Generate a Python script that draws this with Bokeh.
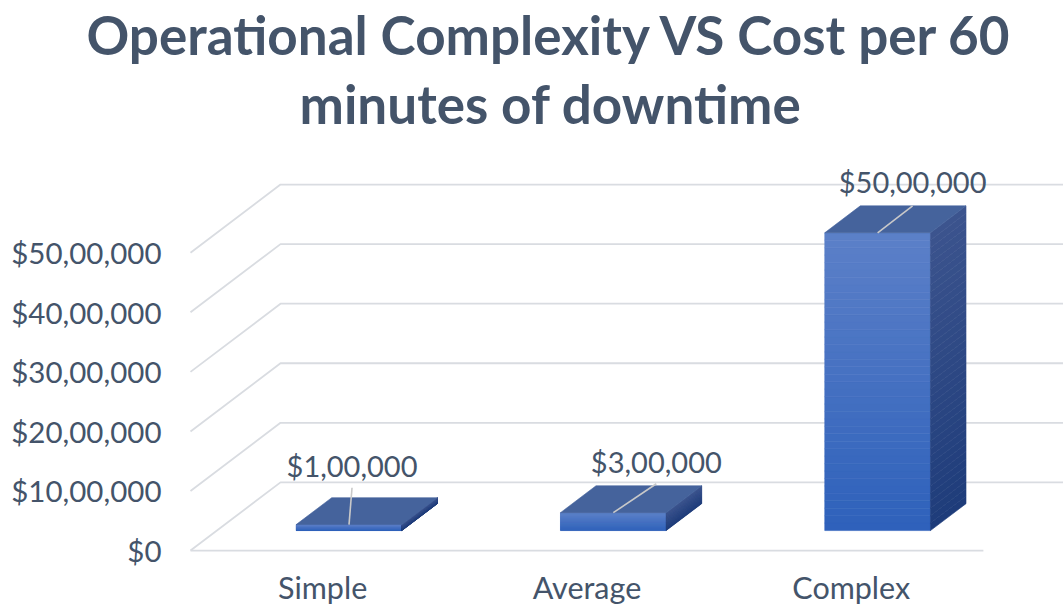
from bokeh.plotting import figure
from bokeh.models import Range1d, FixedTicker, Title
from bokeh.embed import file_html
from bokeh.resources import INLINE
from bokeh.core.properties import value

# ---------------- data ----------------
categories = ["Simple", "Average", "Complex"]
costs = [100000, 300000, 5000000]
y_ticks = [0, 1000000, 2000000, 3000000, 4000000, 5000000]
title_lines = ["Operational Complexity VS Cost per 60", "minutes of downtime"]


def inr(v):
    """Indian digit grouping with a dollar sign."""
    s = str(int(v))
    if len(s) > 3:
        head, tail = s[:-3], s[-3:]
        groups = []
        while len(head) > 2:
            groups.insert(0, head[-2:])
            head = head[:-2]
        if head:
            groups.insert(0, head)
        s = ",".join(groups + [tail])
    return "$" + s


# ---------------- layout / style ----------------
W, H = 1063, 608
LEFT_PANEL = 172
BOTTOM_PANEL = 46
TOP_PANEL = 137
PX_PER_SLOT = 264.3          # px per category slot (front plane)
PX_PER_DOLLAR = 59.7e-6      # px per dollar (front plane)
ORIGIN_PX = (18, 12)         # front-floor origin from frame left / bottom
DEPTH_PX = (90.0, 68.3)      # full floor depth offset in px
BAR_DEPTH = (0.293, 0.688)   # bar front/back as fraction of floor depth
BAR_WIDTH = 0.40
TEXT = "#44546A"
GRID = "#D9DCE1"
LEADER = "#C9C9C9"
FONT = "Lato"
FRONT_TOP, FRONT_BOT = (92, 128, 200), (46, 97, 187)
SIDE_TOP, SIDE_BOT = (60, 84, 142), (30, 60, 122)
TOP_FACE = "#45639C"
N_STRIPS = 40
LABEL_SHIFT_PX = [(3, 37), (43, 29), (35, 27)]
LABEL_GAP_PX = [22, 22, 24]
TITLE_OFFSETS = [-86, 127]
TITLE_STANDOFFS = [0, 8]

DX = DEPTH_PX[0] / PX_PER_SLOT
DY = DEPTH_PX[1] / PX_PER_DOLLAR

x0 = -ORIGIN_PX[0] / PX_PER_SLOT
x1 = x0 + (W - LEFT_PANEL) / PX_PER_SLOT
y0 = -ORIGIN_PX[1] / PX_PER_DOLLAR
y1 = y0 + (H - BOTTOM_PANEL - TOP_PANEL) / PX_PER_DOLLAR


def lerp(c1, c2, t):
    return "#%02x%02x%02x" % tuple(int(round(a + (b - a) * t)) for a, b in zip(c1, c2))


p = figure(width=W, height=H, x_range=Range1d(x0, x1), y_range=Range1d(y0, y1),
           output_backend="svg", toolbar_location=None,
           min_border_left=LEFT_PANEL, min_border_right=0, min_border_top=TOP_PANEL,
           min_border_bottom=BOTTOM_PANEL, outline_line_color=None,
           background_fill_color="white", border_fill_color="white")
p.xgrid.visible = False
p.ygrid.visible = False

# ---- title (two centred lines) ----
p.title.text = title_lines[0]
p.add_layout(Title(text=title_lines[1]), "above")
for t, off, so in zip([p.title, p.above[-1]], TITLE_OFFSETS, TITLE_STANDOFFS):
    t.align = "left"
    t.offset = off
    t.standoff = so
    t.text_font = FONT
    t.text_font_size = "53px"
    t.text_font_style = "bold"
    t.text_color = TEXT

# ---- 3D gridlines: left wall diagonal + back wall horizontal ----
gx, gy = [], []
for t in y_ticks:
    gx.append([0, DX, x1 + 1])
    gy.append([t, t + DY, t + DY])
gx.append([0, len(categories)])
gy.append([0, 0])
p.multi_line(gx, gy, line_color=GRID, line_width=1.8)

# ---- 3D bars ----
fl, fr, fb, ft, fc = [], [], [], [], []
sxs, sys_, scs = [], [], []
txs, tys = [], []
lead_x, lead_y, lab_x, lab_y, lab_t, lab_off = [], [], [], [], [], []
bdx = (BAR_DEPTH[1] - BAR_DEPTH[0]) * DX
bdy = (BAR_DEPTH[1] - BAR_DEPTH[0]) * DY
for i, v in enumerate(costs):
    c = i + 0.5 + BAR_DEPTH[0] * DX
    xl, xr = c - BAR_WIDTH / 2, c + BAR_WIDTH / 2
    b0 = BAR_DEPTH[0] * DY
    for k in range(N_STRIPS):
        f0, f1 = k / N_STRIPS, (k + 1) / N_STRIPS
        tm = 1 - (f0 + f1) / 2
        fl.append(xl); fr.append(xr)
        fb.append(b0 + v * f0); ft.append(b0 + v * f1)
        fc.append(lerp(FRONT_TOP, FRONT_BOT, tm))
        sxs.append([xr, xr, xr + bdx, xr + bdx])
        sys_.append([b0 + v * f0, b0 + v * f1, b0 + v * f1 + bdy, b0 + v * f0 + bdy])
        scs.append(lerp(SIDE_TOP, SIDE_BOT, tm))
    txs.append([xl, xr, xr + bdx, xl + bdx])
    tys.append([b0 + v, b0 + v, b0 + v + bdy, b0 + v + bdy])
    sx, sy = LABEL_SHIFT_PX[i]
    ex = c + sx / PX_PER_SLOT
    ey = b0 + v + sy / PX_PER_DOLLAR
    lead_x.append([c, ex]); lead_y.append([b0 + v, ey])
    lab_x.append(ex); lab_y.append(ey); lab_t.append(inr(v)); lab_off.append(-LABEL_GAP_PX[i])

p.quad(left=fl, right=fr, bottom=fb, top=ft, fill_color=fc, line_color=fc, line_width=0.6)
p.patches(sxs, sys_, fill_color=scs, line_color=scs, line_width=0.6)
p.patches(txs, tys, fill_color=TOP_FACE, line_color=TOP_FACE, line_width=0.6)

# ---- leader lines and data labels ----
p.multi_line(lead_x, lead_y, line_color=LEADER, line_width=1.6)
p.text(x=lab_x, y=lab_y, text=lab_t, text_align="center", text_baseline="middle",
       y_offset=lab_off, text_font=value(FONT), text_font_size="29px", text_color=TEXT)

# ---- axes ----
p.xaxis.ticker = FixedTicker(ticks=[i + 0.5 for i in range(len(categories))])
p.xaxis.major_label_overrides = {i + 0.5: name for i, name in enumerate(categories)}
p.yaxis.ticker = FixedTicker(ticks=y_ticks)
p.yaxis.major_label_overrides = {t: inr(t) for t in y_ticks}
for ax in (p.xaxis, p.yaxis):
    ax.axis_line_color = None
    ax.major_tick_line_color = None
    ax.minor_tick_line_color = None
    ax.major_tick_out = 0
    ax.major_tick_in = 0
    ax.major_label_text_font = FONT
    ax.major_label_text_color = TEXT
p.xaxis.major_label_text_font_size = "30.5px"
p.yaxis.major_label_text_font_size = "29.5px"
p.xaxis.major_label_standoff = 6
p.yaxis.major_label_standoff = 11

open("out.html", "w").write(file_html(p, INLINE))
